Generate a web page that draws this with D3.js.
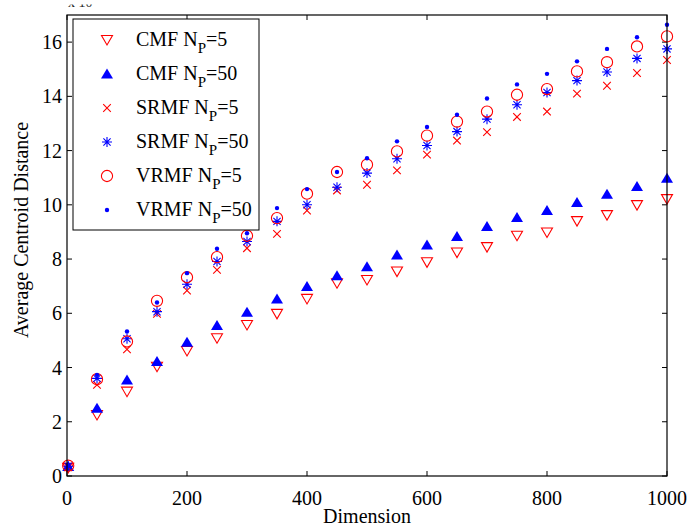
<!DOCTYPE html>
<html>
<head>
<meta charset="utf-8">
<script src="https://cdn.jsdelivr.net/npm/d3@7.9.0/dist/d3.min.js"></script>
<style>
  body { margin: 0; background: #fff; }
  svg { display: block; font-family: "Liberation Serif", "DejaVu Serif", serif; }
</style>
</head>
<body>
<svg id="chart" width="688" height="527"></svg>
<script>
// ===== data =====
const dims = [2, 50, 100, 150, 200, 250, 300, 350, 400, 450, 500,
              550, 600, 650, 700, 750, 800, 850, 900, 950, 1000];

const cmf5 = [0.30, 2.25, 3.11, 4.03, 4.61, 5.08, 5.57, 5.98, 6.53, 7.11, 7.23,
              7.54, 7.88, 8.24, 8.44, 8.86, 8.98, 9.40, 9.62, 9.99, 10.21];
const cmf50 = [0.35, 2.50, 3.54, 4.22, 4.93, 5.55, 6.04, 6.53, 6.99, 7.38, 7.72,
               8.15, 8.52, 8.83, 9.20, 9.53, 9.79, 10.09, 10.39, 10.68, 10.98];
const srmf5 = [0.32, 3.36, 4.67, 5.98, 6.84, 7.60, 8.40, 8.93, 9.79, 10.53, 10.74,
               11.27, 11.85, 12.37, 12.68, 13.24, 13.44, 14.10, 14.39, 14.86, 15.34];
const srmf50 = [0.36, 3.60, 5.06, 6.06, 7.07, 7.91, 8.65, 9.39, 10.00, 10.65, 11.17,
                11.70, 12.19, 12.70, 13.16, 13.69, 14.14, 14.58, 14.90, 15.40, 15.75];
const vrmf5 = [0.38, 3.57, 4.96, 6.46, 7.33, 8.07, 8.86, 9.51, 10.41, 11.21, 11.48,
               11.97, 12.55, 13.07, 13.44, 14.06, 14.27, 14.92, 15.26, 15.84, 16.21];
const vrmf50 = [0.40, 3.73, 5.33, 6.40, 7.48, 8.38, 8.95, 9.88, 10.58, 11.21, 11.72,
                12.34, 12.87, 13.32, 13.92, 14.44, 14.83, 15.29, 15.75, 16.18, 16.64];

const xTicks = [0, 200, 400, 600, 800, 1000];
const yTicks = [0, 2, 4, 6, 8, 10, 12, 14, 16];

const seriesNames = ["CMF", "CMF", "SRMF", "SRMF", "VRMF", "VRMF"];
const seriesNp = ["5", "50", "5", "50", "5", "50"];
const seriesValues = [cmf5, cmf50, srmf5, srmf50, vrmf5, vrmf50];
const seriesMarkers = ["tridown", "triup", "cross", "star", "circle", "dot"];
const seriesColors = ["#ff0000", "#0000ff", "#ff0000", "#0000ff", "#ff0000", "#0000ff"];

// ===== layout =====
const svg = d3.select("#chart");
const pLeft = 67, pRight = 667, pTop = 15, pBottom = 476;

const x = d3.scaleLinear().domain([0, 1000]).range([pLeft, pRight]);
const y = d3.scaleLinear().domain([0, 17]).range([pBottom, pTop]);

// marker drawing
function drawMarker(g, kind, color) {
  if (kind === "tridown") {
    g.append("path").attr("d", "M-5.5,-4.5L5.5,-4.5L0,5Z")
      .attr("fill", "none").attr("stroke", color).attr("stroke-width", 1.1);
  } else if (kind === "triup") {
    g.append("path").attr("d", "M-6,4.5L6,4.5L0,-5.5Z").attr("fill", color);
  } else if (kind === "cross") {
    g.append("path").attr("d", "M-3.8,-3.8L3.8,3.8M-3.8,3.8L3.8,-3.8")
      .attr("stroke", color).attr("stroke-width", 1.1);
  } else if (kind === "star") {
    g.append("path").attr("d", "M-5,0L5,0M0,-5L0,5M-3.6,-3.6L3.6,3.6M-3.6,3.6L3.6,-3.6")
      .attr("stroke", color).attr("stroke-width", 1.1);
  } else if (kind === "circle") {
    g.append("circle").attr("r", 5.6)
      .attr("fill", "none").attr("stroke", color).attr("stroke-width", 1.1);
  } else if (kind === "dot") {
    g.append("circle").attr("r", 2.2).attr("fill", color);
  }
}

// partly cut exponent label at the very top
svg.append("clipPath").attr("id", "topclip")
  .append("rect").attr("x", 60).attr("y", 4.5).attr("width", 60).attr("height", 4);
svg.append("text").attr("clip-path", "url(#topclip)")
  .attr("x", 68).attr("y", 7).attr("font-size", 14).attr("fill", "#222")
  .text("x 10");

// ticks (inside, on all four sides)
const tickLen = 5;
const tg = svg.append("g").attr("stroke", "#000").attr("stroke-width", 1);
xTicks.forEach(t => {
  tg.append("line").attr("x1", x(t)).attr("x2", x(t)).attr("y1", pBottom).attr("y2", pBottom - tickLen);
  tg.append("line").attr("x1", x(t)).attr("x2", x(t)).attr("y1", pTop).attr("y2", pTop + tickLen);
});
yTicks.forEach(t => {
  tg.append("line").attr("x1", pLeft).attr("x2", pLeft + tickLen).attr("y1", y(t)).attr("y2", y(t));
  tg.append("line").attr("x1", pRight).attr("x2", pRight - tickLen).attr("y1", y(t)).attr("y2", y(t));
});

// data
seriesValues.forEach((vals, s) => {
  vals.forEach((v, i) => {
    const g = svg.append("g").attr("transform", `translate(${x(dims[i])},${y(v)})`);
    drawMarker(g, seriesMarkers[s], seriesColors[s]);
  });
});

// frame
svg.append("rect").attr("x", pLeft).attr("y", pTop)
  .attr("width", pRight - pLeft).attr("height", pBottom - pTop)
  .attr("fill", "none").attr("stroke", "#000").attr("stroke-width", 1.2);

// tick labels
svg.selectAll(".xl").data(xTicks).join("text")
  .attr("x", d => x(d)).attr("y", 505)
  .attr("text-anchor", "middle").attr("font-size", 20).text(d => d);
svg.selectAll(".yl").data(yTicks).join("text")
  .attr("x", 62).attr("y", d => y(d)).attr("dy", "0.35em")
  .attr("text-anchor", "end").attr("font-size", 20).text(d => d);

// axis titles
svg.append("text").attr("x", (pLeft + pRight) / 2).attr("y", 523)
  .attr("text-anchor", "middle").attr("font-size", 20).text("Dimension");
svg.append("text").attr("transform", "translate(28,230) rotate(-90)")
  .attr("text-anchor", "middle").attr("font-size", 20).text("Average Centroid Distance");

// legend
const lg = svg.append("g");
lg.append("rect").attr("x", 73).attr("y", 19).attr("width", 186).attr("height", 211)
  .attr("fill", "#fff").attr("stroke", "#000").attr("stroke-width", 1);
seriesNames.forEach((name, s) => {
  const cy = 40 + s * 34;
  const g = lg.append("g").attr("transform", `translate(107,${cy})`);
  drawMarker(g, seriesMarkers[s], seriesColors[s]);
  const t = lg.append("text").attr("x", 136).attr("y", cy + 6).attr("font-size", 20);
  t.append("tspan").text(name + " N");
  t.append("tspan").attr("font-size", 15).attr("dy", 7).text("P");
  t.append("tspan").attr("dy", -7).text("=" + seriesNp[s]);
});
</script>
</body>
</html>
